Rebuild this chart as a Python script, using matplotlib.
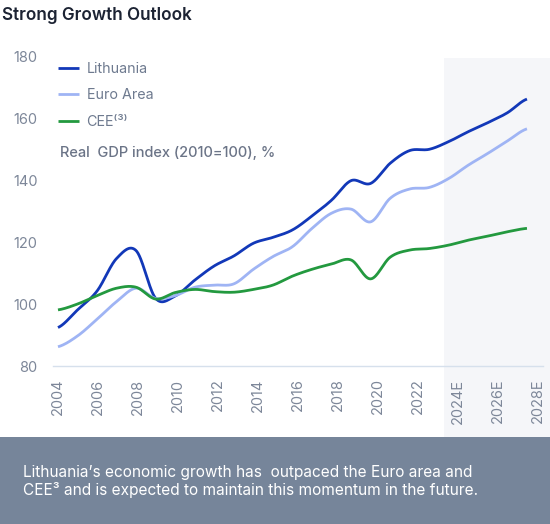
import numpy as np
import matplotlib
matplotlib.use("Agg")
import matplotlib.pyplot as plt
from matplotlib.patches import Rectangle
import matplotlib.transforms as mtransforms

plt.rcParams['font.family'] = ['Inter', 'DejaVu Sans']

# ---------------- data ----------------
years = list(range(2004, 2029))
lithuania = [92.4, 98.1, 104.2, 114.7, 117.2, 101.8, 102.6, 107.7, 112.3, 115.5,
             119.6, 121.5, 123.9, 128.4, 133.5, 139.8, 138.9, 145.4, 149.5, 149.9,
             152.4, 155.6, 158.5, 161.7, 166.1]
euro_area = [86.2, 89.7, 95.1, 100.8, 105.1, 101.8, 102.7, 105.4, 106.1, 106.5,
             111.2, 115.3, 118.5, 124.4, 129.3, 130.6, 126.5, 134.1, 137.1, 137.6,
             140.5, 144.8, 148.6, 152.6, 156.5]
cee = [98.1, 100.0, 102.7, 105.1, 105.4, 101.6, 103.7, 104.7, 104.0, 103.8,
       104.7, 106.1, 109.0, 111.2, 112.9, 114.2, 108.1, 115.1, 117.4, 117.9,
       119.0, 120.6, 121.9, 123.3, 124.4]
series_names = ['Lithuania', 'Euro Area', 'CEE\u207d\u00b3\u207e']
tick_years = list(range(2004, 2029, 2))
tick_labels = ['2004', '2006', '2008', '2010', '2012', '2014', '2016', '2018',
               '2020', '2022', '2024E', '2026E', '2028E']
y_ticks = [80, 100, 120, 140, 160, 180]
forecast_start = 2023.75

# ---------------- style ----------------
colors = ['#1238b8', '#9fb4f4', '#23993f']
W, H = 550, 524
TICK_STRETCH = 20 / 19.54   # label spacing vs. point spacing in the design


def catmull_rom(x, y, n=30):
    x = np.asarray(x, float)
    y = np.asarray(y, float)
    xp = np.concatenate([[x[0]], x, [x[-1]]])
    yp = np.concatenate([[y[0]], y, [y[-1]]])
    xs, ys = [], []
    t = np.linspace(0, 1, n, endpoint=False)
    for i in range(1, len(xp) - 2):
        p0, p1, p2, p3 = yp[i - 1], yp[i], yp[i + 1], yp[i + 2]
        m1 = (p2 - p0) / 2
        m2 = (p3 - p1) / 2
        h00 = 2 * t**3 - 3 * t**2 + 1
        h10 = t**3 - 2 * t**2 + t
        h01 = -2 * t**3 + 3 * t**2
        h11 = t**3 - t**2
        ys.append(h00 * p1 + h10 * m1 + h01 * p2 + h11 * m2)
        xs.append(xp[i] + t * (xp[i + 1] - xp[i]))
    xs.append([x[-1]])
    ys.append([y[-1]])
    return np.concatenate(xs), np.concatenate(ys)


fig = plt.figure(figsize=(W / 100, H / 100), dpi=100)
fig.patch.set_facecolor('white')

ax = fig.add_axes([53 / W, (H - 366) / H, 490 / W, 310 / H])
ax.set_facecolor('none')
ax.set_zorder(5)
px_per_year = 19.54
ax.set_xlim(2004 - 5 / px_per_year, 2004 + 485 / px_per_year)
ax.set_ylim(80, 180)

# forecast shading (x in data, y in figure)
blend = mtransforms.blended_transform_factory(ax.transData, fig.transFigure)
shade = Rectangle((forecast_start, (H - 437) / H), 10, (437 - 58) / H,
                  transform=blend, facecolor='#f5f6f9', edgecolor='none',
                  clip_on=False, zorder=0)
fig.patches.append(shade)

for vals, c, name in zip([lithuania, euro_area, cee], colors, series_names):
    sx, sy = catmull_rom(years, vals)
    ax.plot(sx, sy, color=c, lw=2.0, solid_capstyle='butt', label=name, zorder=3)

for s in ['top', 'right', 'left']:
    ax.spines[s].set_visible(False)
ax.spines['bottom'].set_color('#d6e0ec')
ax.spines['bottom'].set_linewidth(1.0)

ax.set_yticks(y_ticks)
ax.set_yticklabels([str(v) for v in y_ticks])
ax.set_xticks([2004 + (ty - 2004) * TICK_STRETCH for ty in tick_years])
ax.set_xticklabels(tick_labels, rotation=90)
ax.tick_params(axis='y', length=0, pad=11, labelsize=10.5, labelcolor='#7d8799')
ax.tick_params(axis='x', length=0, pad=9, labelsize=10.5, labelcolor='#7d8799')

leg = ax.legend(loc='upper left', bbox_to_anchor=(5 / 490, 0.982), frameon=False,
                fontsize=10.3, handlelength=1.45, handletextpad=0.55,
                labelspacing=0.90, borderaxespad=0.0, borderpad=0.0)
for t in leg.get_texts():
    t.set_color('#6e7a8f')
for l in leg.get_lines():
    l.set_linewidth(2.0)

fig.text(59.5 / W, (H - 153) / H, 'Real  GDP index (2010=100), %', fontsize=10.5,
         color='#6b7487', fontweight='medium', va='center', ha='left')

fig.text(2 / W, (H - 19.5) / H, 'Strong Growth Outlook', fontsize=12.3,
         color='#1c2333', fontweight='semibold', va='baseline', ha='left')

# bottom box
fig.patches.append(Rectangle((0, 0), 1, (H - 437) / H, transform=fig.transFigure,
                             facecolor='#76859a', edgecolor='none', zorder=0))
fig.text(23 / W, (H - 476.5) / H,
         'Lithuania\u2019s economic growth has  outpaced the Euro area and',
         fontsize=11.1, color='white', va='baseline', ha='left')
fig.text(23 / W, (H - 495) / H,
         'CEE\u00b3 and is expected to maintain this momentum in the future.',
         fontsize=11.1, color='white', va='baseline', ha='left')

fig.savefig('out.png', dpi=100, facecolor='white')
